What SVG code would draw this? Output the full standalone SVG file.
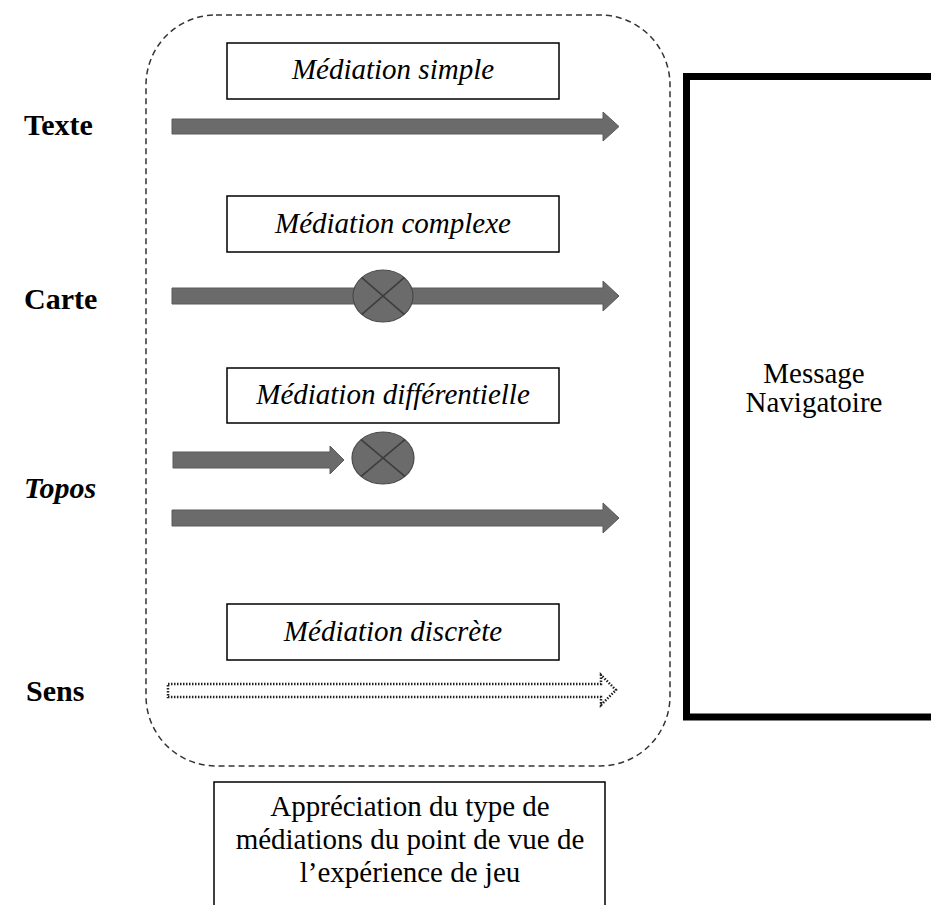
<svg xmlns="http://www.w3.org/2000/svg" width="931" height="905" viewBox="0 0 931 905">
<defs>
<style>
.lbl{font-family:"Liberation Serif","Times New Roman",serif;font-size:30px;font-weight:bold;fill:#000}
.med{font-family:"Liberation Serif","Times New Roman",serif;font-size:29px;font-style:italic;fill:#000;text-anchor:middle}
.body{font-family:"Liberation Serif","Times New Roman",serif;font-size:29px;fill:#000;text-anchor:middle}
.box{fill:#fff;stroke:#000;stroke-width:1.5}
.arr{fill:#6b6b6b;stroke:#5a5a5a;stroke-width:1}
.node{fill:#6b6b6b;stroke:#4a4a4a;stroke-width:1.2}
.x{stroke:#3c3c3c;stroke-width:1.5}
</style>
</defs>
<rect width="931" height="905" fill="#fff"/>
<g id="frame">
<rect x="146" y="15" width="524" height="751" rx="70" ry="70" fill="none" stroke="#333" stroke-width="1.5" stroke-dasharray="6,4"/>
</g>
<g id="labels">
<text class="lbl" x="24" y="135">Texte</text>
<text class="lbl" x="24" y="309">Carte</text>
<text class="lbl" x="24" y="498" font-style="italic">Topos</text>
<text class="lbl" x="26" y="701">Sens</text>
</g>
<g id="med-simple">
<rect class="box" x="227" y="43" width="332" height="56"/>
<text class="med" x="393" y="79">Médiation simple</text>
</g>
<g id="med-complexe">
<rect class="box" x="227" y="196" width="332" height="56"/>
<text class="med" x="393" y="233">Médiation complexe</text>
</g>
<g id="med-diff">
<rect class="box" x="227" y="368" width="332" height="55"/>
<text class="med" x="393" y="404">Médiation différentielle</text>
</g>
<g id="med-discrete">
<rect class="box" x="227" y="604" width="332" height="56"/>
<text class="med" x="393" y="641">Médiation discrète</text>
</g>
<g id="message">
<rect x="686.5" y="76.5" width="300" height="640.5" fill="none" stroke="#000" stroke-width="7"/>
<text class="body" x="814" y="383" font-size="27">Message</text>
<text class="body" x="814" y="412" font-size="27">Navigatoire</text>
</g>
<g id="appreciation">
<rect class="box" x="214" y="782" width="391" height="140"/>
<text class="body" x="410" y="816">Appréciation du type de</text>
<text class="body" x="410" y="849">médiations du point de vue de</text>
<text class="body" x="410" y="882">l’expérience de jeu</text>
</g>
<g id="connectors">
<path class="arr" d="M172,119 H603 V112 L619,126.5 L603,141 V134 H172 Z"/>
<path class="arr" d="M172,288 H603 V281 L619,296 L603,311 V304 H172 Z"/>
<path class="arr" d="M173,452 H330 V446 L344,460 L330,474 V468 H173 Z"/>
<path class="arr" d="M172,510 H603 V503 L619,518 L603,533 V526 H172 Z"/>
<path d="M168,684 H601 V675 L616,690 L601,705 V697 H168 Z" fill="#fff" stroke="#222" stroke-width="2.5" stroke-dasharray="1.5,1.5"/>
</g>
<g id="node-complexe">
<ellipse class="node" cx="383" cy="296" rx="30" ry="26"/>
<line class="x" x1="361.8" y1="277.6" x2="404.2" y2="314.4"/>
<line class="x" x1="361.8" y1="314.4" x2="404.2" y2="277.6"/>
</g>
<g id="node-diff">
<ellipse class="node" cx="383" cy="458" rx="31" ry="26"/>
<line class="x" x1="361.1" y1="439.6" x2="404.9" y2="476.4"/>
<line class="x" x1="361.1" y1="476.4" x2="404.9" y2="439.6"/>
</g>
</svg>
